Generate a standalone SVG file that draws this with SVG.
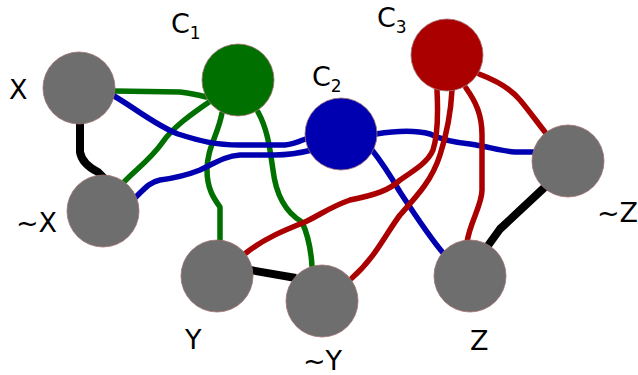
<svg xmlns="http://www.w3.org/2000/svg" width="638" height="375" viewBox="0 0 638 375">
<style>
.e{fill:none;stroke-width:5.5;stroke-linecap:round;stroke-linejoin:round}
.g{stroke:#007000}.b{stroke:#0000b0}.r{stroke:#aa0000}
.k{fill:none;stroke:#000;stroke-width:8;stroke-linejoin:round}
.n{stroke:#a07070;stroke-width:0.8}
.gray{fill:#6e6e6e}
text{font-family:"DejaVu Sans",sans-serif;font-size:27px;fill:#000}
.s{font-size:17px}
</style>
<rect width="638" height="375" fill="#fff"/>
<g id="connectors">
<path class="k" d="M80,122 L80,152 Q82,164 98,172 L108,182"/>
<path class="k" d="M250,270 L296,278"/>
<path class="k" d="M487,247 L500,229 L546,186"/>
<path class="e g" d="M114,91 L180,92 Q195,94 206,97"/>
<path class="e g" d="M212,100 C190,115 172,128 162,143 C150,160 135,170 124,182"/>
<path class="e g" d="M222,113 C218,135 207,148 207,170 C207,190 215,200 220,207 L220,242"/>
<path class="e g" d="M258,112 C268,130 270,150 273,170 C276,195 285,212 302,222 C308,235 311,250 312,266"/>
<path class="e b" d="M114,96 C135,108 155,125 178,134 C200,141 215,145 240,145 L285,145 C295,144 300,141 308,138"/>
<path class="e b" d="M136,197 C145,188 150,182 160,180 C175,178 185,176 200,170 C215,163 225,156 240,155 L275,155 C290,155 300,153 312,150"/>
<path class="e b" d="M376,134 C395,131 415,130 430,134 C440,139 450,142 470,144 C490,147 500,151 515,152 L534,152"/>
<path class="e b" d="M372,150 C380,160 390,175 400,192 C415,215 430,238 444,254"/>
<path class="e r" d="M479,74 C495,80 510,88 520,100 C530,112 537,122 545,132"/>
<path class="e r" d="M466,88 C476,102 482,115 482,135 L482,190 C482,205 470,222 467,242"/>
<path class="e r" d="M452,90 C451,110 448,130 440,155 C432,180 418,195 400,215 C385,235 375,258 352,278"/>
<path class="e r" d="M437,90 C438,110 438,135 433,150 C428,162 415,170 400,180 C390,190 375,195 350,200 C330,207 320,215 305,222 C285,230 265,238 246,253"/>
</g>
<g id="X"><circle class="n gray" cx="79" cy="88" r="36"/><text x="9" y="99">X</text></g>
<g id="notX"><circle class="n gray" cx="103" cy="211" r="36"/><text x="16" y="232">~X</text></g>
<g id="Y"><circle class="n gray" cx="217" cy="276" r="36"/><text x="185" y="349">Y</text></g>
<g id="notY"><circle class="n gray" cx="322" cy="301" r="36"/><text x="303" y="370">~Y</text></g>
<g id="Z"><circle class="n gray" cx="470" cy="276" r="36"/><text x="470" y="350">Z</text></g>
<g id="notZ"><circle class="n gray" cx="568" cy="161" r="36"/><text x="597" y="222">~Z</text></g>
<g id="C1"><circle class="n" fill="#007000" cx="238" cy="80" r="36"/><text x="171" y="33">C<tspan class="s" dy="6">1</tspan></text></g>
<g id="C2"><circle class="n" fill="#0000b0" cx="341" cy="134" r="36"/><text x="312" y="86">C<tspan class="s" dy="6">2</tspan></text></g>
<g id="C3"><circle class="n" fill="#aa0000" cx="447" cy="55" r="36"/><text x="377" y="27">C<tspan class="s" dy="6">3</tspan></text></g>
</svg>
